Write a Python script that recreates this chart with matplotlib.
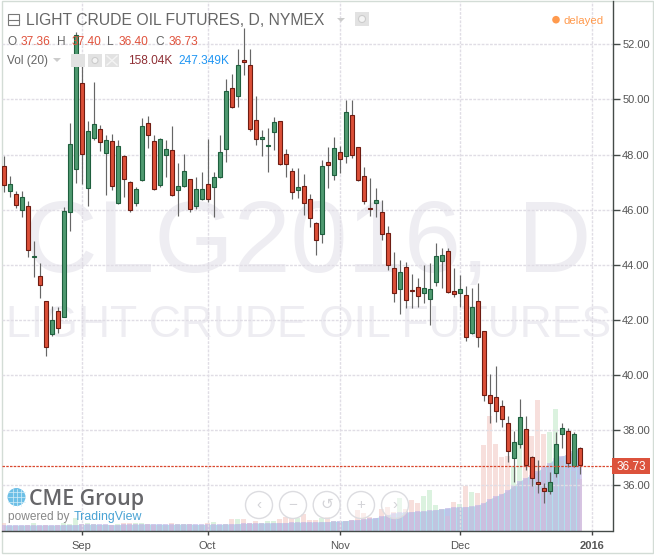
import matplotlib
matplotlib.use("Agg")
import matplotlib.pyplot as plt
from matplotlib.patches import Rectangle, Circle, Polygon

plt.rcParams['font.family'] = ['Liberation Sans', 'DejaVu Sans']

opens = [47.57,46.66,46.56,45.97,46.12,44.29,43.59,42.67,41.50,42.31,
         42.11,45.90,47.46,50.58,46.77,48.59,48.91,48.07,48.48,46.23,
         47.93,46.99,46.23,47.06,49.13,48.48,46.88,47.97,48.15,46.72,
         46.85,47.10,46.12,46.37,46.92,46.81,47.17,48.19,50.40,50.11,
         51.42,51.24,49.24,48.55,48.30,48.81,49.21,48.01,47.39,46.70,
         46.85,46.37,45.50,45.10,47.72,47.24,48.08,47.93,49.42,48.26,
         47.21,46.05,46.23,45.90,45.14,43.87,43.11,43.91,43.08,43.18,
         42.96,42.74,43.36,44.12,44.49,43.03,42.96,42.89,41.51,42.67,
         41.58,39.26,39.19,38.86,38.24,36.97,37.48,38.03,37.01,36.10,
         35.88,35.78,36.43,37.84,37.95,36.68,37.36]
highs = [47.95,47.22,46.68,46.68,46.31,44.86,44.06,42.70,42.50,42.45,
         46.11,49.13,52.44,51.49,49.23,50.62,49.07,48.72,48.73,48.53,
         47.98,47.04,46.83,49.34,49.39,48.71,48.59,48.53,49.04,47.68,
         48.01,47.12,47.17,47.35,48.55,47.35,48.71,50.73,50.91,51.82,
         52.58,51.82,50.11,48.88,48.95,49.35,49.22,48.19,47.50,47.50,
         47.28,46.56,45.56,47.79,48.27,48.64,48.31,49.98,49.98,48.27,
         47.54,47.14,46.77,46.34,45.39,44.45,44.17,44.09,43.66,43.51,
         43.99,44.05,44.78,44.60,44.60,43.87,43.63,43.23,43.17,43.32,
         41.58,40.02,40.31,39.08,38.50,37.98,39.13,38.50,37.05,36.90,
         36.07,36.49,37.92,38.24,38.06,37.92,37.40]
lows = [46.65,46.47,46.05,45.74,44.27,43.54,42.80,40.70,41.43,41.53,
        42.10,45.24,46.95,46.92,46.14,48.53,48.14,46.53,46.71,46.20,
        46.47,45.93,46.14,47.04,48.24,46.71,46.83,47.20,46.50,45.78,
        46.83,45.93,46.01,46.35,46.29,45.74,47.15,47.74,49.68,49.71,
        50.89,48.87,48.35,47.95,47.38,48.16,47.62,47.20,46.39,46.41,
        45.81,45.36,44.35,44.78,46.80,47.08,47.32,47.68,47.86,47.02,
        46.19,45.78,45.74,44.90,43.79,42.66,42.20,42.42,42.42,42.48,
        42.60,41.81,43.24,43.17,42.96,42.84,42.48,41.24,41.49,41.03,
        39.05,38.27,38.30,38.10,36.83,36.10,37.34,36.54,35.96,35.70,
        35.34,35.67,36.28,37.34,36.65,36.65,36.40]
closes = [46.88,46.92,46.16,46.45,44.52,44.31,43.25,41.00,41.98,41.69,
          45.94,48.39,52.33,48.01,48.84,49.12,48.44,48.52,46.85,48.30,
          47.10,46.00,46.74,49.02,48.70,46.74,48.55,48.19,46.52,46.85,
          47.39,46.01,46.74,46.74,46.37,47.17,48.08,50.29,49.74,51.24,
          51.35,48.91,48.55,48.62,48.35,49.17,47.64,47.67,46.63,46.81,
          46.23,45.68,44.89,47.57,47.61,48.23,47.83,49.56,47.97,47.06,
          46.30,46.01,46.34,45.10,43.98,42.99,43.72,42.71,43.06,42.85,
          43.14,43.11,44.30,44.34,43.02,42.93,43.11,41.37,42.45,41.37,
          39.26,38.97,38.68,38.39,37.23,37.55,38.46,36.72,36.25,36.03,
          35.78,36.10,37.48,38.06,36.79,37.84,36.73]
volumes_k = [24,12,15,15,18,24,15,18,15,18,
             24,21,39,21,24,21,15,18,18,21,
             24,24,24,24,21,18,15,15,24,21,
             21,21,15,18,24,27,15,21,36,36,
             36,24,30,24,30,30,36,42,39,39,
             51,33,33,39,42,30,24,30,33,63,
             54,42,33,66,72,57,99,66,93,84,
             105,123,78,66,45,87,81,135,117,114,
             259,346,262,223,226,196,271,301,286,394,
             292,298,367,211,187,181,158]
vol_ma_k = [18,18,18,18,18,18,18,18,18,18,
            19,19,19,20,20,20,20,20,19,19,
            20,20,20,21,21,21,21,20,20,20,
            21,21,20,20,20,20,20,21,21,22,
            23,23,24,24,24,25,25,25,26,26,
            27,27,27,28,28,29,30,31,33,34,
            36,38,40,44,49,54,56,57,58,59,
            60,62,64,66,69,72,72,73,74,78,
            84,97,104,112,122,136,150,160,170,180,
            192,205,220,226,230,240,247]
price_ticks = [36, 38, 40, 42, 44, 46, 48, 50, 52]
date_ticks = [13, 34, 56, 76, 98]
date_labels = ['Sep', 'Oct', 'Nov', 'Dec', '2016']
last_price = 36.73
title = 'LIGHT CRUDE OIL FUTURES, D, NYMEX'

W, H = 654, 555
fig = plt.figure(figsize=(W / 100, H / 100), dpi=100, facecolor='white')

def px_axes(z):
    a = fig.add_axes([0, 0, 1, 1], zorder=z)
    a.set_xlim(0, W); a.set_ylim(H, 0); a.axis('off')
    return a

bg = px_axes(0)
top = px_axes(5)

# frame of the image
bg.add_patch(Rectangle((1.5, 0.5), 651, 552.5, fill=False, ec='#d3dcd6', lw=1))

# watermarks
wm = '#eeedf2'
bg.text(24, 272, 'CLG2016, D', fontsize=73.5, color=wm, ha='left', va='baseline')
bg.text(6, 337, 'LIGHT CRUDE OIL FUTURES', fontsize=32, color=wm, ha='left', va='baseline')

# axes positioned by pixels
L, R, T, B = 2.0, 612.5, 1.0, 531.0
pos = [L / W, 1 - B / H, (R - L) / W, (B - T) / H]
vax = fig.add_axes(pos, zorder=1); vax.patch.set_alpha(0)
ax = fig.add_axes(pos, zorder=2); ax.patch.set_alpha(0)

xs = list(range(len(opens)))
ax.set_xlim((L - 3.67) / 6, (R - 3.67) / 6)
ax.set_ylim(52 - (B - 44.3) / 27.55, 52 + (44.3 - T) / 27.55)
vax.set_xlim(ax.get_xlim())
vax.set_ylim(0, (B - T) * 3.01)
vax.axis('off')

# volume
vax.fill_between(xs, 0, vol_ma_k, color='#aadcec', alpha=0.9, lw=0, zorder=1)
vcol = ['#f2c6c0' if c < o else '#bfe8c6' for o, c in zip(opens, closes)]
vax.bar(xs, volumes_k, width=0.84, color=vcol, alpha=0.55, lw=0, zorder=2)
vax.bar(xs, vol_ma_k, width=0.84, color='#c4b4e6', alpha=0.62, lw=0, zorder=3)

# grid
ax.set_yticks(price_ticks)
ax.set_yticklabels([f'{p:.2f}' for p in price_ticks])
ax.set_xticks(date_ticks)
ax.set_xticklabels(date_labels)
ax.grid(True, color='#e0dde5', lw=1, ls=(0, (2, 1)), zorder=1)
ax.set_axisbelow(True)
ax.tick_params(axis='y', right=True, left=False, labelright=True, labelleft=False,
               length=5, width=1, color='#444b48', labelcolor='#555555', labelsize=8, pad=2)
ax.tick_params(axis='x', length=3, width=1, color='#444444', labelcolor='#555555', labelsize=8, pad=4)
for lab in ax.get_xticklabels():
    if lab.get_text() == '2016':
        lab.set_fontweight('bold')
for s in ['left', 'top']:
    ax.spines[s].set_visible(False)
for s in ['right', 'bottom']:
    ax.spines[s].set_color('#444b48')
    ax.spines[s].set_linewidth(1)

# candles
up_face, up_edge = '#4f9a70', '#1f5f3e'
dn_face, dn_edge = '#dc4f38', '#6e1c12'
ax.vlines(xs, lows, highs, color='#666666', lw=0.85, zorder=3)
for x, o, c in zip(xs, opens, closes):
    up = c >= o
    ax.bar(x, abs(c - o), bottom=min(o, c), width=0.72,
           color=up_face if up else dn_face,
           edgecolor=up_edge if up else dn_edge, lw=0.8, zorder=4)

# last price
ax.axhline(last_price - 0.03, color='#d9482f', lw=0.9, ls=(0, (2, 1)), zorder=5)
top.add_patch(Rectangle((612, 458), 38, 16, fc='#dc523c', ec='none'))
top.text(631, 466, f'{last_price:.2f}', color='white', fontsize=8.5, ha='center', va='center_baseline')

# header
gray = '#666666'
top.add_patch(Rectangle((8, 14), 11, 11, fill=False, ec='#777777', lw=0.8))
top.plot([8, 19], [19.5, 19.5], color='#777777', lw=0.8)
top.text(26, 25, title, fontsize=11.3, color=gray, ha='left', va='baseline')
top.add_patch(Polygon([(337, 18), (345, 18), (341, 22)], fc='#cccccc', ec='none'))
top.add_patch(Rectangle((355, 12), 14, 14, fc='#e2e2e2', ec='none'))
top.add_patch(Circle((362, 19), 3.5, fc='#f4f4f4', ec='#cccccc', lw=0.8))

red = '#e0523c'
for xx, tt, cc in [(7, 'O', gray), (21, '37.36', red), (57, 'H', gray), (72, '37.40', red),
                   (107, 'L', gray), (119, '36.40', red), (155, 'C', gray), (169, '36.73', red)]:
    top.text(xx, 45, tt, fontsize=8.6, color=cc, ha='left', va='baseline')

top.text(7, 64, 'Vol (20)', fontsize=8.6, color=gray, ha='left', va='baseline')
top.add_patch(Polygon([(53, 58), (61, 58), (57, 62)], fc='#cccccc', ec='none'))
for bx in (71, 88, 105):
    top.add_patch(Rectangle((bx, 54), 14, 13, fc='#e2e2e2', ec='none'))
top.add_patch(Circle((95, 60.5), 3, fc='#f4f4f4', ec='#cccccc', lw=0.8))
top.plot([107, 117], [56, 65], color='#f4f4f4', lw=1)
top.plot([107, 117], [65, 56], color='#f4f4f4', lw=1)
top.text(128, 64, '158.04K', fontsize=8.6, color='#8f2f35', ha='left', va='baseline')
top.text(178, 64, '247.349K', fontsize=8.6, color='#2196f3', ha='left', va='baseline')

top.add_patch(Circle((556, 19.7), 3.8, fc='#ff9a4d', ec='none'))
top.text(564, 23.5, 'delayed', fontsize=8.2, color='#ff9a4d', ha='left', va='baseline')

# logo
top.add_patch(Circle((16.5, 497), 9, fc='#6cbfe6', ec='none'))
for dy in (-5, 0, 5):
    top.plot([8, 25], [497 + dy, 497 + dy], color='#d5eef8', lw=0.5)
for dx in (-4, 0, 4):
    top.plot([16.5 + dx, 16.5 + dx], [488.5, 505.5], color='#d5eef8', lw=0.5)
top.text(29, 505, 'CME Group', fontsize=15.4, fontweight='semibold', family='Open Sans', color='#666669',
         ha='left', va='baseline')
top.text(8, 520, 'powered by', fontsize=8.6, color='#888888', ha='left', va='baseline')
top.text(74, 520, 'TradingView', fontsize=8.9, color='#4aa3d4', ha='left', va='baseline')

# navigation buttons
for cx, sym in zip((259, 293, 326.7, 361, 395), ('‹', '−', '↺', '+', '›')):
    top.add_patch(Circle((cx, 505), 13.5, fc=(1, 1, 1, 0.45), ec='#dcdce0', lw=1))
    top.text(cx, 505, sym, fontsize=11, color='#d4d4d8', ha='center', va='center',
             family=['Liberation Sans', 'DejaVu Sans'])

fig.savefig('out.png', dpi=100)
